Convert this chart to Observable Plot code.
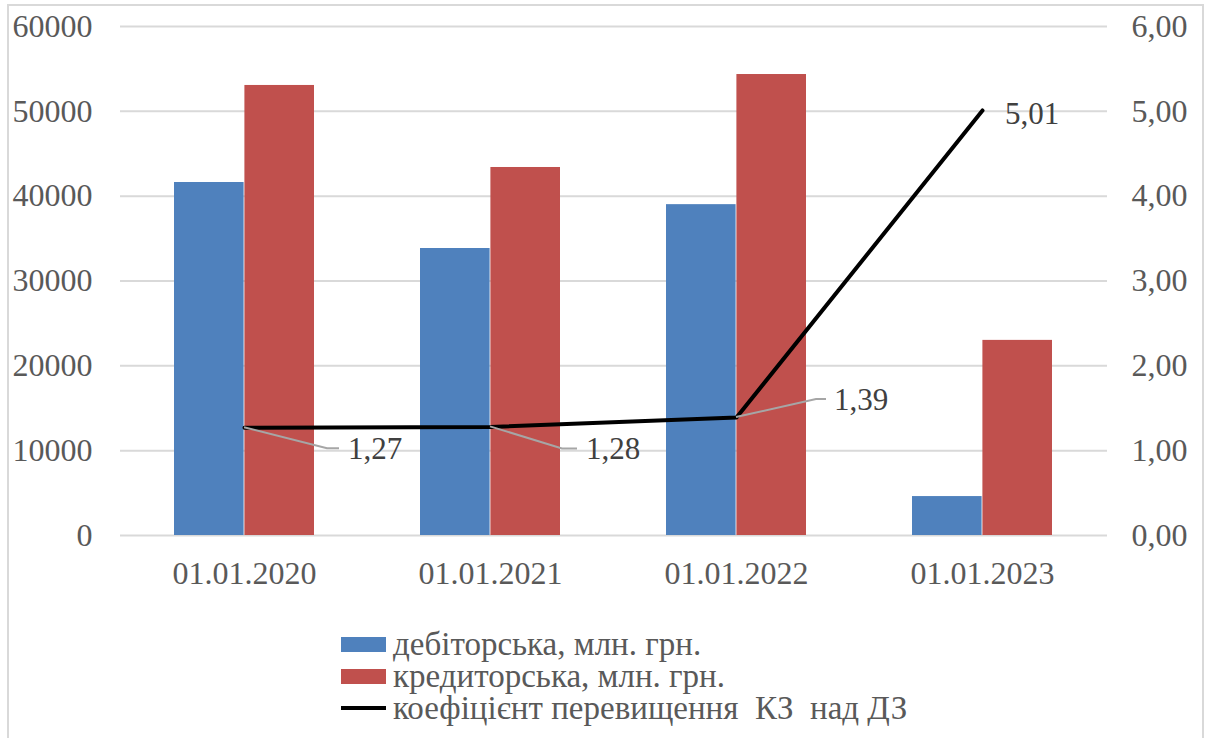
<!DOCTYPE html>
<html>
<head>
<meta charset="utf-8">
<script src="https://cdn.jsdelivr.net/npm/d3@7"></script>
<script src="https://cdn.jsdelivr.net/npm/@observablehq/plot@0.6"></script>
<style>
  html, body { margin: 0; padding: 0; background: #fff; }
  #wrap { position: relative; width: 1213px; height: 738px; overflow: hidden; font-family: "Liberation Serif", "Times New Roman", serif; }
  #frame { position: absolute; left: 7px; top: 4px; width: 1197px; height: 800px; border: 2px solid #d9d9d9; box-sizing: border-box; }
  #chart { position: absolute; left: 0; top: 0; }
  #legend { position: absolute; left: 341px; top: 628px; color: #595959; font-size: 33px; }
  .item { display: flex; align-items: center; height: 32px; }
  .sw { width: 45px; height: 15px; margin-right: 7px; flex: none; }
  .ln { width: 45px; height: 4px; margin-right: 7px; background: #000; flex: none; }
  .txt { white-space: pre; line-height: 32px; }
</style>
</head>
<body>
<div id="wrap">
  <div id="frame"></div>
  <div id="chart"></div>
  <div id="legend"></div>
</div>
<script>
// Dates of the balance sheet
const dates = ["01.01.2020", "01.01.2021", "01.01.2022", "01.01.2023"];
// Receivables and payables, mln UAH
const receivables = [41610, 33830, 39000, 4590];
const payables = [53050, 43380, 54340, 23000];
// Ratio of payables to receivables
const ratio = [1.27, 1.28, 1.39, 5.01];
// Axis ticks
const leftTicks = [0, 10000, 20000, 30000, 40000, 50000, 60000];

const seriesNames = ["дебіторська, млн. грн.", "кредиторська, млн. грн.", "коефіцієнт перевищення  КЗ  над ДЗ"];
const colors = {receivables: "#4f81bd", payables: "#c0504d", ratio: "#000000"};
const serif = "Liberation Serif";

// The ratio is drawn on the same y scale; one ratio unit = 10000 on the left axis
const ratioUnit = 10000;

const rows = dates.map((date, i) => ({
  date,
  receivables: receivables[i],
  payables: payables[i],
  ratio: ratio[i],
  label: ratio[i].toFixed(2).replace(".", ",")
}));

// Data-label placement (pixel offsets from the line point): leader elbow, leader end, text start
const labelLayout = [
  {ex: 83, ey: 21, hx: 95, tx: 104, ty: 21},
  {ex: 72, ey: 22, hx: 87, tx: 96, ty: 22},
  {ex: 80, ey: -18, hx: 90, tx: 98, ty: -18},
  {ex: null, tx: 23, ty: 3}
];

const fmtRatio = d => (d / ratioUnit).toFixed(2).replace(".", ",");

// x position of a band's centre
const bandCenter = (scales, v) => v + (scales.x.bandwidth ? scales.x.bandwidth() / 2 : 0);

function leaders(index, scales, values) {
  const g = d3.create("svg:g");
  for (const i of index) {
    const L = labelLayout[i];
    if (L.ex == null) continue;
    const x = bandCenter(scales, values.x[i]), y = values.y[i];
    g.append("path")
      .attr("d", `M${x},${y}L${x + L.ex},${y + L.ey}L${x + L.hx},${y + L.ey}`)
      .attr("fill", "none")
      .attr("stroke", "#a6a6a6")
      .attr("stroke-width", 2);
  }
  return g.node();
}

function labels(index, scales, values) {
  const g = d3.create("svg:g")
    .attr("font-family", serif)
    .attr("font-size", 31)
    .attr("text-anchor", "start")
    .attr("fill", "#404040");
  for (const i of index) {
    const L = labelLayout[i];
    g.append("text")
      .attr("x", bandCenter(scales, values.x[i]) + L.tx)
      .attr("y", values.y[i] + L.ty)
      .attr("dy", "0.35em")
      .text(rows[i].label);
  }
  return g.node();
}

const chart = Plot.plot({
  width: 1213,
  height: 610,
  marginLeft: 120,
  marginRight: 106,
  marginTop: 26,
  marginBottom: 75,
  style: {fontFamily: serif, fontSize: "32px", color: "#595959", background: "transparent", overflow: "visible"},
  x: {domain: dates, paddingInner: 0.43, paddingOuter: 0.215, label: null},
  y: {domain: [0, 60000], label: null},
  marks: [
    Plot.gridY(leftTicks, {stroke: "#d9d9d9", strokeOpacity: 1, strokeWidth: 2}),
    Plot.axisY(leftTicks, {anchor: "left", tickSize: 0, tickPadding: 28, tickFormat: d3.format("d"), fontSize: 32, fontFamily: serif, label: null}),
    Plot.axisY(leftTicks, {anchor: "right", tickSize: 0, tickPadding: 24, tickFormat: fmtRatio, fontSize: 32, fontFamily: serif, label: null}),
    Plot.axisX({tickSize: 0, tickPadding: 26, fontSize: 32, fontFamily: serif, label: null}),
    Plot.barY(rows, {x: "date", y: "receivables", fill: colors.receivables, insetRight: 70.4}),
    Plot.barY(rows, {x: "date", y: "payables", fill: colors.payables, insetLeft: 70.4}),
    Plot.line(rows, {x: "date", y: d => d.ratio * ratioUnit, stroke: colors.ratio, strokeWidth: 4}),
    Plot.dot(rows, {x: "date", y: d => d.ratio * ratioUnit, r: 0, render: leaders}),
    Plot.dot(rows, {x: "date", y: d => d.ratio * ratioUnit, r: 0, render: labels})
  ]
});
document.getElementById("chart").append(chart);

// Legend below the plot
const legend = document.getElementById("legend");
const swatches = [
  {cls: "sw", color: colors.receivables},
  {cls: "sw", color: colors.payables},
  {cls: "ln", color: colors.ratio}
];
seriesNames.forEach((name, i) => {
  const item = document.createElement("div");
  item.className = "item";
  const sw = document.createElement("div");
  sw.className = swatches[i].cls;
  sw.style.background = swatches[i].color;
  const t = document.createElement("span");
  t.className = "txt";
  t.textContent = name;
  item.append(sw, t);
  legend.append(item);
});
</script>
</body>
</html>
